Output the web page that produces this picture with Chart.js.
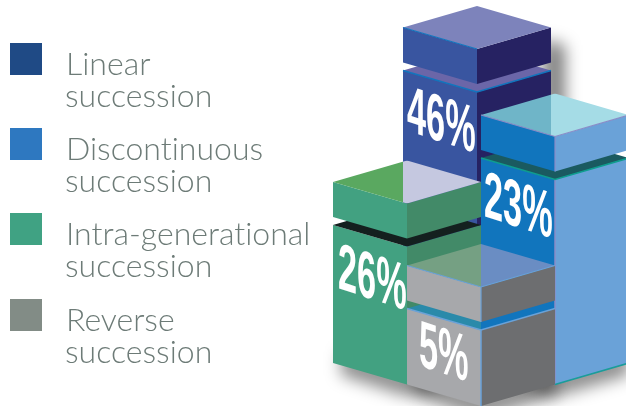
<!DOCTYPE html>
<html>
<head>
<meta charset="utf-8">
<title>Succession</title>
<script src="https://cdn.jsdelivr.net/npm/chart.js@4/dist/chart.umd.js"></script>
<style>
html, body { margin: 0; padding: 0; background: #fff; overflow: hidden; }
#chart { display: block; }
</style>
</head>
<body>
<canvas id="chart" width="626" height="406"></canvas>
<script>
// ===== DATA =====
const categories = ['Linear succession', 'Discontinuous succession', 'Intra-generational succession', 'Reverse succession'];
const shares = [46, 23, 26, 5];              // printed on the blocks
const blockHeights = [271, 205, 138, 76];    // drawn height of each block
const legendColors = ['#1f4a85', '#2e78c0', '#40a283', '#828c86'];

// ===== LAYOUT =====
const UNIT = 74;          // half a block width
const RISE = 21.5;        // iso rise over half a block
const CAP = 35;           // floating cap height
const GAP = 8;            // gap under the cap
const groundCol = [6.446, 7.5, 5.5, 6.5];
const groundRow = [2, 1, 1, 0];
const labelOffset = [[4, 60], [3, 58], [5, 63], [12, 57]];

const blockStyles = [
    { left: '#3955a0', right: '#262262', band: ['#6b66a8', '#6b66a8'], lid: ['#7d83bb', '#7d83bb'], edge: '#1175bd', split: 'own' },
    { left: '#1175bd', right: '#6aa2d8', band: ['#1a5a60', '#1a5a60'], lid: ['#6fb5c8', '#a5dce6'], edge: '#0f9d8f', mid: '#8a8cc8', foot: '#1a9d9a', capEdge: '#8a8cc8', split: 'backRight' },
    { left: '#42a181', right: '#428a68', band: ['#14201f', '#14201f'], lid: ['#5aa860', '#c5c8e0'], split: 'backLeft' },
    { left: '#a7a8ab', right: '#6d6e70', band: ['#2a8aaa', '#1175bd'], lid: ['#75a083', '#6a8dc3'], edge: '#6aa2d8', mid: '#6aa2d8', capEdge: '#6aa2d8', split: 'own' }
];

// ===== DRAW HELPERS =====
function poly(ctx, pts, fill) {
    ctx.beginPath();
    pts.forEach((p, i) => i ? ctx.lineTo(p[0], p[1]) : ctx.moveTo(p[0], p[1]));
    ctx.closePath();
    if (fill) { ctx.fillStyle = fill; ctx.fill(); }
}

function line(ctx, pts, color, width) {
    ctx.beginPath();
    pts.forEach((p, i) => i ? ctx.lineTo(p[0], p[1]) : ctx.moveTo(p[0], p[1]));
    ctx.strokeStyle = color;
    ctx.lineWidth = width;
    ctx.stroke();
}

function diamond(cx, front, hw) {
    return [[cx, front], [cx - hw, front - RISE], [cx, front - 2 * RISE], [cx + hw, front - RISE]];
}

// diamond painted in two colours either side of a vertical split
function splitDiamond(ctx, cx, front, hw, colors, splitX) {
    ctx.save();
    poly(ctx, diamond(cx, front, hw));
    ctx.clip();
    ctx.fillStyle = colors[0];
    ctx.fillRect(cx - hw, front - 2 * RISE, splitX - cx + hw, 2 * RISE);
    ctx.fillStyle = colors[1];
    ctx.fillRect(splitX, front - 2 * RISE, cx + hw - splitX, 2 * RISE);
    ctx.restore();
}

function drawBlock(ctx, el, i, back) {
    const s = blockStyles[i];
    const hw = el.width / 2, cx = el.x, top = el.y, base = el.base;
    const capBase = top - GAP, capTop = capBase - CAP;

    // body
    poly(ctx, [[cx - hw, top - RISE], [cx, top], [cx, base], [cx - hw, base - RISE]], s.left);
    poly(ctx, [[cx, top], [cx + hw, top - RISE], [cx + hw, base - RISE], [cx, base]], s.right);
    if (s.mid) line(ctx, [[cx, top], [cx, base]], s.mid, 1.5);
    if (s.foot) line(ctx, [[cx, base], [cx + hw, base - RISE]], s.foot, 1.5);

    // top of the body, seen through the gap
    splitDiamond(ctx, cx, top, hw, s.band, cx);
    if (s.edge) line(ctx, [[cx - hw, top - RISE], [cx, top], [cx + hw, top - RISE]], s.edge, 1.5);

    // floating cap
    poly(ctx, [[cx - hw, capTop - RISE], [cx, capTop], [cx, capBase], [cx - hw, capBase - RISE]], s.left);
    poly(ctx, [[cx, capTop], [cx + hw, capTop - RISE], [cx + hw, capBase - RISE], [cx, capBase]], s.right);
    let splitX = cx;
    if (s.split === 'backLeft') splitX = back.x - back.width / 2;
    if (s.split === 'backRight') splitX = back.x + back.width / 2;
    splitDiamond(ctx, cx, capTop, hw, s.lid, splitX);
    if (s.capEdge) {
        line(ctx, [[cx - hw, capTop - RISE], [cx, capTop], [cx + hw, capTop - RISE]], s.capEdge, 1.2);
        line(ctx, [[cx, capTop], [cx, capBase]], s.capEdge, 1.2);
    }
    if (i === 0) line(ctx, [[cx - hw, capTop - RISE], [cx, capTop]], s.edge, 1.2);

    // share printed on the left face, skewed with it
    const off = labelOffset[i];
    const fx = cx - hw + off[0], fy = top - RISE + off[1];
    ctx.save();
    ctx.transform(0.52, 0.33 * 0.52, 0, 1, fx, fy);
    ctx.font = 'bold 66px "Liberation Sans Narrow", "Liberation Sans", sans-serif';
    ctx.fillStyle = '#ffffff';
    ctx.textBaseline = 'alphabetic';
    ctx.fillText(shares[i] + '%', 0, 0);
    ctx.restore();
}

// ===== PLUGIN: ISO BLOCKS =====
const isoBlocks = {
    id: 'isoBlocks',
    beforeDatasetDraw() {
        return false;   // the flat bars are replaced below
    },
    afterDatasetsDraw(chart) {
        const ctx = chart.ctx;
        const els = chart.getDatasetMeta(0).data;

        // soft shadows
        ctx.save();
        ctx.filter = 'blur(8px)';
        els.forEach(el => {
            const hw = el.width / 2;
            poly(ctx, [[el.x - hw + 8, el.base - RISE - 12], [el.x, el.base - 12], [el.x + hw, el.base - RISE - 12],
                       [el.x + hw, el.base - RISE + 12], [el.x, el.base + 12], [el.x - hw + 8, el.base - RISE + 12]], 'rgba(0,0,0,0.45)');
        });
        const tall = els[0];
        const hw0 = tall.width / 2, capY = tall.y - GAP - CAP;
        poly(ctx, [[tall.x + hw0 - 8, capY - RISE + 12], [tall.x + hw0 + 14, capY - RISE + 18], [tall.x + hw0 + 14, tall.y + 40], [tall.x + hw0 - 8, tall.y + 40]], 'rgba(0,0,0,0.5)');
        ctx.restore();

        // back to front
        const order = els.map((el, i) => i).sort((a, b) => els[a].base - els[b].base || els[a].x - els[b].x);
        order.forEach(i => drawBlock(ctx, els[i], i, tall));
    },
    afterDraw(chart) {
        const ctx = chart.ctx;
        const rowY = [75, 160, 245, 331];
        ctx.save();
        categories.forEach((name, i) => {
            const y = rowY[i];
            const words = name.split(' ');
            ctx.fillStyle = legendColors[i];
            ctx.fillRect(10, y - 32, 32, 32);
            ctx.fillStyle = '#6d7b77';
            ctx.font = '300 32px Lato, "Liberation Sans", sans-serif';
            ctx.letterSpacing = '0.01px';   // keeps the "ti" letters apart
            ctx.textBaseline = 'alphabetic';
            ctx.fillText(words[0], 66, y);
            ctx.fillText(words[1], 65, y + 32);
        });
        ctx.restore();
    }
};

// ===== CHART =====
new Chart(document.getElementById('chart').getContext('2d'), {
    type: 'bar',
    data: {
        labels: categories,
        datasets: [{
            label: 'Succession',
            data: categories.map((c, i) => ({
                x: groundCol[i],
                y: [groundRow[i] * RISE, groundRow[i] * RISE + blockHeights[i]]
            })),
            barThickness: 2 * UNIT,
            backgroundColor: blockStyles.map(s => s.left)
        }]
    },
    options: {
        responsive: false,
        animation: false,
        layout: { padding: 0 },
        plugins: {
            legend: { display: false },
            tooltip: { enabled: false }
        },
        scales: {
            x: { type: 'linear', min: 0, max: 626 / UNIT, offset: false, display: false },
            y: { min: 0, max: 406, display: false }
        }
    },
    plugins: [isoBlocks]
});
</script>
</body>
</html>
